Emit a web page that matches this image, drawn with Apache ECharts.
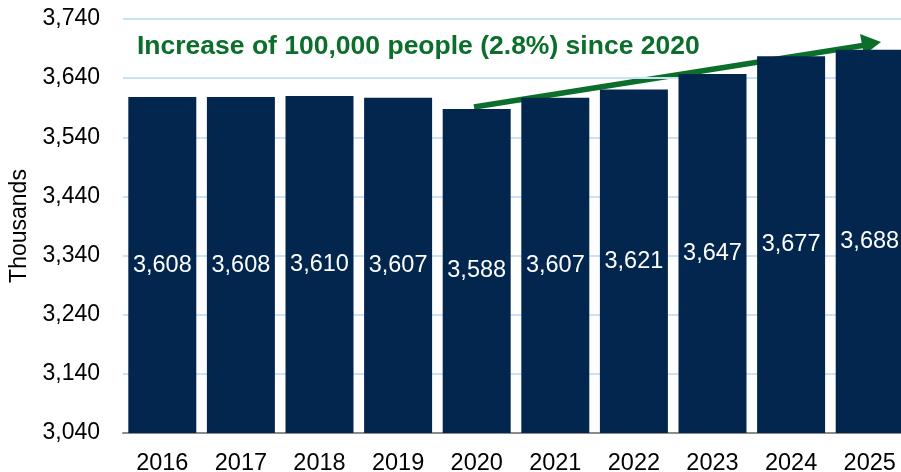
<!DOCTYPE html>
<html><head><meta charset="utf-8">
<script src="https://cdn.jsdelivr.net/npm/echarts@6/dist/echarts.min.js"></script>
<style>html,body{margin:0;padding:0;background:#fff}#c{width:901px;height:472px}</style>
</head><body><div id="c"></div>
<script>
const years = ['2016','2017','2018','2019','2020','2021','2022','2023','2024','2025'];
const population = [3608,3608,3610,3607,3588,3607,3621,3647,3677,3688];
const yTicks = [3040,3140,3240,3340,3440,3540,3640,3740];
const annotation = 'Increase of 100,000 people (2.8%) since 2020';
const font = '"Liberation Sans", Arial, sans-serif';
const chart = echarts.init(document.getElementById('c'));
chart.setOption({
  animation:false,
  grid:{left:123,right:-8,top:19,bottom:39,outerBoundsMode:'none',containLabel:false},
  xAxis:{type:'category',data:years,
    axisLine:{lineStyle:{color:'#8c8c8c',width:2}},axisTick:{show:false},
    axisLabel:{color:'#000',fontSize:23.5,fontFamily:font,margin:19}},
  yAxis:{type:'value',min:yTicks[0],max:yTicks[yTicks.length-1],interval:100,
    name:'Thousands',nameLocation:'middle',nameGap:91,nameRotate:90,
    nameTextStyle:{color:'#000',fontSize:23,fontFamily:font},
    axisLine:{show:false},axisTick:{show:false},
    axisLabel:{color:'#000',fontSize:23,fontFamily:font,margin:23,
      formatter:v=>v.toLocaleString('en-US')},
    splitLine:{lineStyle:{color:'#c9e2f8',width:2}}},
  series:[{type:'bar',data:population,barCategoryGap:'13.5%',
    itemStyle:{color:'#02264e'},
    label:{show:true,position:'inside',color:'#fff',fontSize:23.5,fontFamily:font,
      formatter:p=>p.value.toLocaleString('en-US')}}],
  graphic:[
    {type:'text',x:137,y:47,style:{text:annotation,fill:'#0b6e2a',textVerticalAlign:'middle',
      font:'bold 26.5px "Liberation Sans", Arial, sans-serif'}},
    {type:'line',shape:{x1:474,y1:107,x2:866,y2:45},style:{stroke:'#0b6e2a',lineWidth:5.5}},
    {type:'polygon',shape:{points:[[881,42],[860,34],[864,55]]},style:{fill:'#0b6e2a'}}
  ]
});
</script></body></html>
